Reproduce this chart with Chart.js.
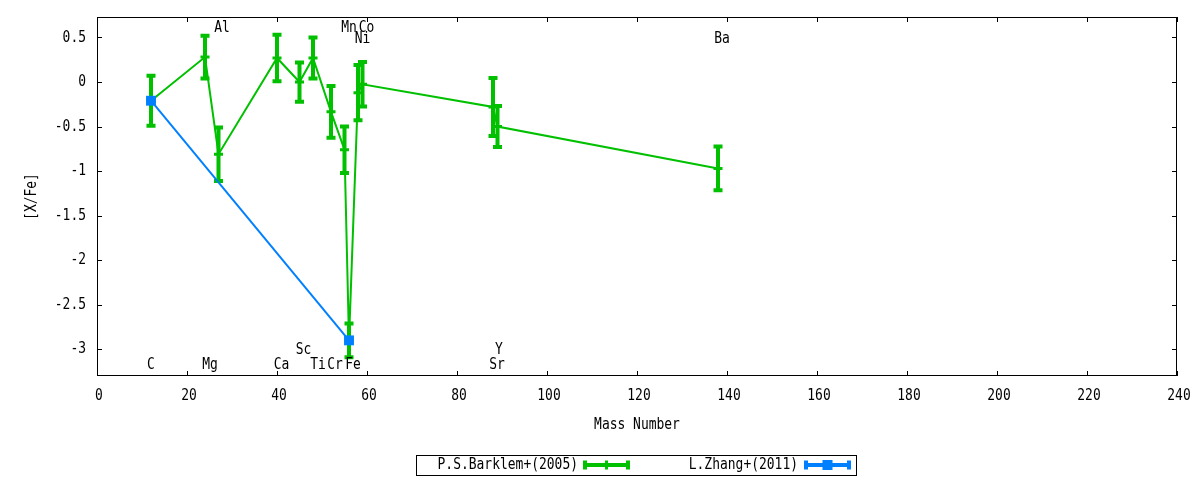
<!DOCTYPE html>
<html>
<head>
<meta charset="utf-8">
<script src="https://cdn.jsdelivr.net/npm/chart.js@4"></script>
<style>
  body { margin: 0; background: #fff; }
  #wrap { width: 1200px; height: 480px; }
</style>
</head>
<body>
<div id="wrap"><canvas id="abundChart"></canvas></div>
<script>
// Barklem+(2005): mass number, [X/Fe], error
const massBarklem = [12, 24, 27, 40, 45, 48, 52, 55, 56, 58, 59, 88, 89, 138];
const xfeBarklem  = [-0.21, 0.28, -0.81, 0.27, 0.0, 0.27, -0.335, -0.76, -2.9, -0.12, -0.025, -0.28, -0.5, -0.97];
const errBarklem  = [0.28, 0.24, 0.30, 0.26, 0.22, 0.23, 0.29, 0.26, 0.19, 0.31, 0.25, 0.325, 0.23, 0.245];

// Zhang+(2011)
const massZhang = [12, 56];
const xfeZhang  = [-0.21, -2.9];
const errZhang  = [0, 0];

// element names written in the plot (x = mass, y = [X/Fe])
const elemNames = ['Al', 'Mn', 'Co', 'Ni', 'Ba', 'C', 'Mg', 'Ca', 'Sc', 'Ti', 'Cr', 'Fe', 'Y', 'Sr'];
const elemX     = [27.8, 56.0, 59.9, 59.0, 138.9, 12.0, 25.1, 41.0, 45.9, 49.1, 52.9, 56.9, 89.3, 88.9];
const elemY     = [0.61, 0.61, 0.61, 0.49, 0.49, -3.17, -3.17, -3.17, -3.01, -3.17, -3.17, -3.17, -3.01, -3.17];

const xTicks = [0, 20, 40, 60, 80, 100, 120, 140, 160, 180, 200, 220, 240];
const yTicks = [0.5, 0, -0.5, -1, -1.5, -2, -2.5, -3];

const GREEN = '#00c000';
const BLUE = '#0080ff';
const FONT = "16px 'DejaVu Sans Mono', monospace";
const SQUEEZE = 0.81; // the reference font is narrow

// condensed text
function label(ctx, str, x, y, align, rot) {
    ctx.save();
    ctx.translate(x, y);
    if (rot) ctx.rotate(rot);
    ctx.scale(SQUEEZE, 1);
    ctx.textAlign = align || 'center';
    ctx.fillText(str, 0, 0);
    ctx.restore();
}

function toPoints(xs, ys) {
    return xs.map((x, i) => ({ x: x, y: ys[i] }));
}

// vertical error bars with caps, drawn below the lines
const errorBars = {
    id: 'errorBars',
    beforeDatasetsDraw(chart) {
        const ctx = chart.ctx;
        const xs = chart.scales.x, ys = chart.scales.y;
        chart.data.datasets.forEach(ds => {
            if (!ds.errors) return;
            ctx.save();
            ctx.strokeStyle = ds.borderColor;
            ctx.lineWidth = 4;
            ds.data.forEach((p, i) => {
                const e = ds.errors[i];
                if (!e) return;
                const px = xs.getPixelForValue(p.x);
                const top = ys.getPixelForValue(p.y + e);
                const bot = ys.getPixelForValue(p.y - e);
                ctx.beginPath();
                ctx.moveTo(px, top); ctx.lineTo(px, bot);
                ctx.moveTo(px - 4.5, top); ctx.lineTo(px + 4.5, top);
                ctx.moveTo(px - 4.5, bot); ctx.lineTo(px + 4.5, bot);
                ctx.stroke();
            });
            ctx.restore();
        });
    }
};

// gnuplot style frame, inward ticks, tick labels, axis titles, element names and legend box
const frame = {
    id: 'frame',
    afterDraw(chart) {
        const ctx = chart.ctx;
        const a = chart.chartArea;
        const xs = chart.scales.x, ys = chart.scales.y;
        ctx.save();
        ctx.strokeStyle = '#000';
        ctx.lineWidth = 1;
        ctx.strokeRect(a.left + 0.5, a.top + 0.5, a.right - a.left - 1, a.bottom - a.top - 1);
        ctx.beginPath();
        xTicks.forEach(v => {
            const px = Math.round(xs.getPixelForValue(v)) + 0.5;
            ctx.moveTo(px, a.bottom); ctx.lineTo(px, a.bottom - 5);
            ctx.moveTo(px, a.top); ctx.lineTo(px, a.top + 5);
        });
        yTicks.forEach(v => {
            const py = Math.round(ys.getPixelForValue(v)) + 0.5;
            ctx.moveTo(a.left, py); ctx.lineTo(a.left + 5, py);
            ctx.moveTo(a.right, py); ctx.lineTo(a.right - 5, py);
        });
        ctx.stroke();

        ctx.fillStyle = '#000';
        ctx.font = FONT;
        ctx.textBaseline = 'middle';
        xTicks.forEach(v => label(ctx, String(v), xs.getPixelForValue(v) + 2, a.bottom + 20, 'center'));
        yTicks.forEach(v => label(ctx, String(v), a.left - 11, ys.getPixelForValue(v), 'right'));

        elemNames.forEach((n, i) => {
            label(ctx, n, xs.getPixelForValue(elemX[i]), ys.getPixelForValue(elemY[i]), 'center');
        });

        label(ctx, 'Mass Number', (a.left + a.right) / 2, 425, 'center');
        label(ctx, '[X/Fe]', 32, (a.top + a.bottom) / 2, 'center', -Math.PI / 2);

        // legend
        ctx.strokeRect(416.5, 455.5, 440, 20);
        const entries = [
            { ds: chart.data.datasets[1], textRight: 578, x0: 585, x1: 628 },
            { ds: chart.data.datasets[0], textRight: 798, x0: 806, x1: 849 }
        ];
        entries.forEach(en => {
            const y = 465;
            ctx.fillStyle = '#000';
            label(ctx, en.ds.label, en.textRight, y, 'right');
            ctx.strokeStyle = en.ds.borderColor;
            ctx.lineWidth = 4;
            ctx.beginPath();
            ctx.moveTo(en.x0, y); ctx.lineTo(en.x1, y);
            ctx.moveTo(en.x0, y - 4.5); ctx.lineTo(en.x0, y + 4.5);
            ctx.moveTo(en.x1, y - 4.5); ctx.lineTo(en.x1, y + 4.5);
            ctx.stroke();
            const mid = (en.x0 + en.x1) / 2;
            if (en.ds.pointStyle === 'rect') {
                ctx.fillStyle = en.ds.borderColor;
                ctx.fillRect(mid - 5, y - 5, 10, 10);
            } else {
                ctx.lineWidth = 3;
                ctx.beginPath();
                ctx.moveTo(mid, y - 4.5); ctx.lineTo(mid, y + 4.5);
                ctx.stroke();
            }
        });
        ctx.restore();
    }
};

const ctx = document.getElementById('abundChart').getContext('2d');
const abundChart = new Chart(ctx, {
    type: 'line',
    data: {
        datasets: [{
            label: 'L.Zhang+(2011)',
            data: toPoints(massZhang, xfeZhang),
            errors: errZhang,
            borderColor: BLUE,
            backgroundColor: BLUE,
            borderWidth: 2,
            pointStyle: 'rect',
            pointRadius: 7,
            pointBorderWidth: 0,
            order: 0
        }, {
            label: 'P.S.Barklem+(2005)',
            data: toPoints(massBarklem, xfeBarklem),
            errors: errBarklem,
            borderColor: GREEN,
            backgroundColor: GREEN,
            borderWidth: 2,
            pointStyle: 'cross',
            pointRadius: 4.5,
            pointBorderWidth: 3,
            order: 1
        }]
    },
    options: {
        responsive: true,
        maintainAspectRatio: false,
        animation: false,
        layout: { padding: { left: 0, right: 23, top: 17, bottom: 0 } },
        plugins: {
            legend: { display: false },
            tooltip: { enabled: false }
        },
        scales: {
            x: {
                type: 'linear',
                min: 0,
                max: 240,
                grid: { display: false, drawTicks: false },
                border: { display: false },
                afterFit: s => { s.height = 104; },
                afterBuildTicks: s => { s.ticks = xTicks.map(v => ({ value: v })); },
                ticks: { display: false }
            },
            y: {
                type: 'linear',
                min: -3.3,
                max: 0.73,
                grid: { display: false, drawTicks: false },
                border: { display: false },
                afterFit: s => { s.width = 97; },
                afterBuildTicks: s => { s.ticks = yTicks.map(v => ({ value: v })); },
                ticks: { display: false }
            }
        }
    },
    plugins: [errorBars, frame]
});
</script>
</body>
</html>
